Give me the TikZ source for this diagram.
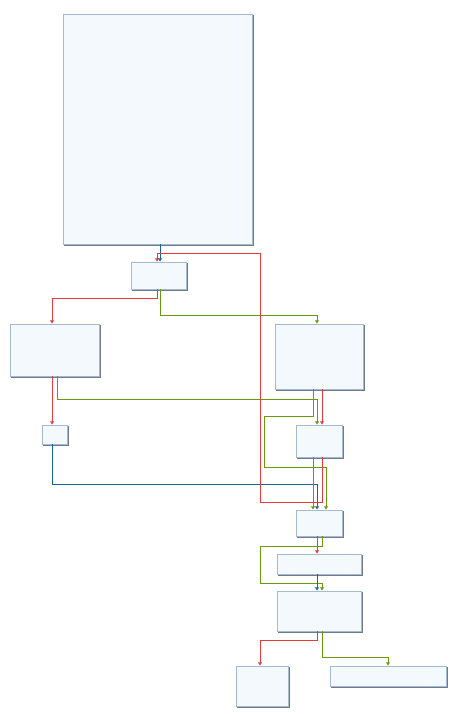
\documentclass[tikz,border=0pt]{standalone}
\usepackage{tikz}
\usepackage{xcolor}
\usetikzlibrary{arrows.meta}
\tikzset{>={Triangle[width=3.8pt,length=3.2pt]}}

\definecolor{blkfill}{HTML}{F4F9FE}
\definecolor{blkline}{HTML}{A3BAD2}
\definecolor{blkshade}{HTML}{6F7B88}
\definecolor{edgered}{HTML}{E8393C}
\definecolor{edgegreen}{HTML}{679A0E}
\definecolor{edgeblue}{HTML}{17689A}

\tikzset{
  blk/.style={draw=blkline, fill=blkfill, line width=0.9pt, inner sep=0pt,
    preaction={draw=blkshade, fill=blkshade, line width=0.9pt,
      transform canvas={shift={(1.4pt,-1.4pt)}}}},
  er/.style={draw=edgered, line width=0.9pt, ->},
  eg/.style={draw=edgegreen, line width=0.9pt, ->},
  eb/.style={draw=edgeblue, line width=0.9pt, ->}
}

\begin{document}
\begin{tikzpicture}[x=1pt, y=-1pt]

  \useasboundingbox (0,0) rectangle (460,714);

  \node[blk, minimum width=189pt, minimum height=230pt] (b1) at (157.5,129) {};
  \node[blk, minimum width=55pt, minimum height=27pt] (b2) at (158.5,275.5) {};
  \node[blk, minimum width=89pt, minimum height=52pt] (b3) at (54.5,350) {};
  \node[blk, minimum width=88pt, minimum height=65pt] (b4) at (319,356.5) {};
  \node[blk, minimum width=25pt, minimum height=19pt] (b5) at (54.5,434.5) {};
  \node[blk, minimum width=46pt, minimum height=32pt] (b6) at (319,441) {};
  \node[blk, minimum width=46pt, minimum height=26pt] (b7) at (319,523) {};
  \node[blk, minimum width=84pt, minimum height=20pt] (b8) at (319,564) {};
  \node[blk, minimum width=84pt, minimum height=40pt] (b9) at (319,611) {};
  \node[blk, minimum width=52pt, minimum height=40pt] (b10) at (262,686) {};
  \node[blk, minimum width=116pt, minimum height=20pt] (b11) at (388,676) {};

  \draw[eb] ([xshift=2.5pt]b1.south) -- ([xshift=1.5pt]b2.north);

  \draw[er] ([xshift=-1.5pt]b2.south) |- (52,298) -- ([xshift=-2.5pt]b3.north);
  \draw[eg] ([xshift=1.5pt]b2.south) |- (317,315) -- ([xshift=-2pt]b4.north);

  \draw[er] ([xshift=-2.5pt]b3.south) -- ([xshift=-2.5pt]b5.north);
  \draw[eg] ([xshift=2.5pt]b3.south) |- (317,399) -- ([xshift=-2pt]b6.north);

  \draw[er] ([xshift=3pt]b4.south) -- ([xshift=3pt]b6.north);
  \draw[eg] ([xshift=-6pt]b4.south) |- (264,416) |- (326,467) -- ([xshift=7pt]b7.north);

  \draw[eb] ([xshift=-2.5pt]b5.south) |- (317,484) -- ([xshift=-2pt]b7.north);

  \draw[eg] ([xshift=-6pt]b6.south) -- ([xshift=-6pt]b7.north);
  \draw[er] ([xshift=3pt]b6.south) |- (260,502) |- (157,253) -- ([xshift=-1.5pt]b2.north);

  \draw[er] ([xshift=-2pt]b7.south) -- ([xshift=-2pt]b8.north);
  \draw[eg] ([xshift=3pt]b7.south) |- (260,546) |- (322,583) -- ([xshift=3pt]b9.north);

  \draw[eb] ([xshift=-2pt]b8.south) -- ([xshift=-2pt]b9.north);

  \draw[er] ([xshift=-2pt]b9.south) |- (260,640) -- ([xshift=-2pt]b10.north);
  \draw[eg] ([xshift=3pt]b9.south) |- (388,657) -- (b11.north);

\end{tikzpicture}
\end{document}
